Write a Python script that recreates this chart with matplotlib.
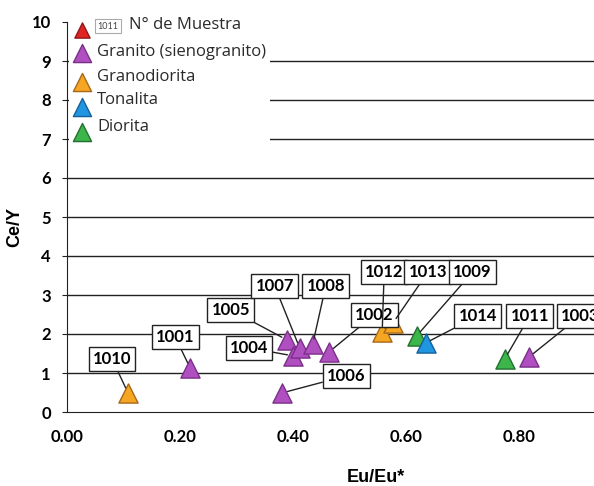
import matplotlib.pyplot as plt
from matplotlib.patches import Rectangle

plt.rcParams['font.family'] = ['Liberation Sans', 'DejaVu Sans']

# muestras
ids = ['1010', '1001', '1006', '1005', '1004', '1007', '1008', '1002',
       '1012', '1013', '1009', '1014', '1011', '1003']
eu = [0.108, 0.218, 0.381, 0.389, 0.400, 0.412, 0.435, 0.464,
      0.558, 0.577, 0.619, 0.635, 0.775, 0.818]
ce_y = [0.49, 1.13, 0.49, 1.85, 1.44, 1.64, 1.74, 1.54,
        2.05, 2.28, 1.95, 1.77, 1.36, 1.41]
roca = ['Granodiorita', 'Granito', 'Granito', 'Granito', 'Granito', 'Granito',
        'Granito', 'Granito', 'Granodiorita', 'Granodiorita', 'Diorita',
        'Tonalita', 'Diorita', 'Granito']
# label offsets in pixels
offs = [(-16, 34), (-15, 31), (64, 17), (-56, 30), (-44, 8), (-25, 62),
        (13, 58), (45, 37), (2, 60), (35, 51), (56, 64), (52, 27),
        (25, 43), (51, 41)]

colores = {'Granito': ('#b050c0', '#7a2f88'),
           'Granodiorita': ('#f5a623', '#a8681a'),
           'Tonalita': ('#2196e0', '#15609a'),
           'Diorita': ('#3cb54a', '#237030')}

leyenda = ['N° de Muestra', 'Granito (sienogranito)', 'Granodiorita',
           'Tonalita', 'Diorita']
leyenda_col = [('#e02424', '#901818'), colores['Granito'], colores['Granodiorita'],
               colores['Tonalita'], colores['Diorita']]

fig = plt.figure(figsize=(5.94, 4.86), dpi=100)
ax = fig.add_axes([67 / 594, 74 / 486, 527 / 594, 390 / 486])

ax.set_xlim(0, 0.933)
ax.set_ylim(0, 10)
ax.set_yticks(range(0, 11))
ax.set_xticks([0, 0.2, 0.4, 0.6, 0.8])
ax.set_xticklabels(['0.00', '0.20', '0.40', '0.60', '0.80'])
for s in ['top', 'right']:
    ax.spines[s].set_visible(False)
ax.spines['left'].set_color('#222222')
ax.spines['bottom'].set_color('#222222')
ax.tick_params(axis='x', length=0, pad=12, labelsize=12)
ax.tick_params(axis='y', length=3.6, pad=8, labelsize=12, color='#222222')
for t in ax.get_xticklabels() + ax.get_yticklabels():
    t.set_fontweight('bold')
    t.set_family(['Lato', 'DejaVu Sans'])

for yv in range(1, 10):
    ax.axhline(yv, color='#222222', lw=1, zorder=1)

for i in range(len(ids)):
    fc, ec = colores[roca[i]]
    ax.scatter(eu[i], ce_y[i], marker='^', s=190, c=fc, edgecolors=ec,
               linewidths=1, zorder=4)
    ax.annotate(ids[i], (eu[i], ce_y[i]), xytext=offs[i],
                textcoords='offset pixels', ha='center', va='center',
                fontsize=12, fontweight='bold', family=['Lato', 'DejaVu Sans'],
                bbox=dict(boxstyle='square,pad=0.25', fc='white', ec='#222222', lw=1),
                arrowprops=dict(arrowstyle='-', color='#222222', lw=1,
                                shrinkA=0, shrinkB=4),
                zorder=5, annotation_clip=False)

# leyenda manual
ax.add_patch(Rectangle((0.003, 0.65), 0.382, 0.36, transform=ax.transAxes,
                       fc='white', ec='none', zorder=2, clip_on=False))
tri_y = [0.979, 0.921, 0.846, 0.782, 0.718]
txt_y = [0.992, 0.923, 0.859, 0.800, 0.731]
for k, lab in enumerate(leyenda):
    fc, ec = leyenda_col[k]
    ax.scatter(0.028, tri_y[k], marker='^', s=170 if k else 120, c=fc,
               edgecolors=ec, linewidths=1, transform=ax.transAxes, zorder=3,
               clip_on=False)
    if k == 0:
        ax.text(0.058, txt_y[k] - 0.003, '1011', transform=ax.transAxes, fontsize=6.5,
                ha='left', va='center', color='#444444', zorder=3,
                family=['Lato', 'DejaVu Sans'],
                bbox=dict(boxstyle='square,pad=0.3', fc='white', ec='#aaaaaa', lw=0.8))
        ax.text(0.118, txt_y[k], lab, transform=ax.transAxes, fontsize=12,
                ha='left', va='center', color='#2a2a2a', zorder=3,
                family=['Open Sans', 'DejaVu Sans'])
    else:
        ax.text(0.057, txt_y[k], lab, transform=ax.transAxes, fontsize=12,
                ha='left', va='center', color='#2a2a2a', zorder=3,
                family=['Open Sans', 'DejaVu Sans'])

fig.text(376 / 594, 1 - 477 / 486, 'Eu/Eu*', ha='center', va='center',
         fontsize=13, fontweight='bold')
fig.text(15 / 594, 1 - 227 / 486, 'Ce/Y', ha='center', va='center',
         fontsize=13, fontweight='bold', rotation=90)

fig.savefig('out.png', dpi=100)
